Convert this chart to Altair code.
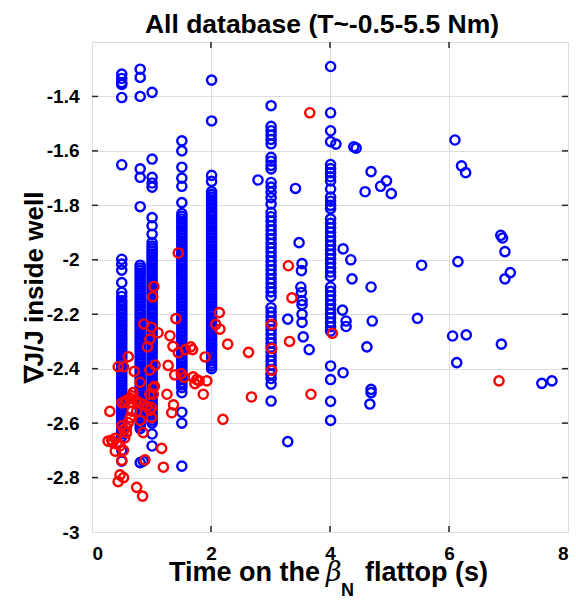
import altair as alt
import pandas as pd

# ---------------- data ----------------
col_x = [0.50, 0.81, 1.01, 1.51, 2.01, 3.01, 4.01]

col05_y = [-1.318, -1.334, -1.349, -1.356, -1.404, -1.651, -1.998, -2.016, -2.038, -2.084,
           -2.12, -2.135,
           -2.15, -2.16, -2.17, -2.18, -2.19, -2.20, -2.21, -2.22, -2.23, -2.24,
           -2.25, -2.26, -2.27, -2.28, -2.29, -2.30, -2.31, -2.32, -2.33, -2.34,
           -2.35, -2.36, -2.37, -2.38, -2.39, -2.40, -2.41, -2.42, -2.43, -2.44,
           -2.45, -2.46, -2.47, -2.48, -2.49, -2.50, -2.51, -2.52, -2.53, -2.54,
           -2.55, -2.56, -2.57, -2.58, -2.59, -2.60, -2.61, -2.62, -2.63, -2.64,
           -2.65, -2.70, -2.74]
col08_y = [-1.30, -1.33, -1.40, -1.666, -1.697, -1.805,
           -2.02, -2.03, -2.04, -2.05, -2.06, -2.07, -2.08, -2.09, -2.10, -2.11,
           -2.12, -2.13, -2.14, -2.15, -2.16, -2.17, -2.18, -2.19, -2.20, -2.21,
           -2.22, -2.23, -2.24, -2.25, -2.26, -2.27, -2.28, -2.29, -2.30, -2.31,
           -2.32, -2.33, -2.34, -2.35, -2.36, -2.37, -2.38, -2.39, -2.40, -2.41,
           -2.42, -2.43, -2.44, -2.45, -2.46, -2.47, -2.48, -2.49, -2.50, -2.51,
           -2.52, -2.53, -2.54, -2.55, -2.56, -2.57, -2.58, -2.59, -2.60, -2.61,
           -2.62, -2.745]
col10_y = [-1.385, -1.63, -1.697, -1.718, -1.733, -1.845, -1.875, -1.906, -1.937,
           -1.95, -1.96, -1.97, -1.98, -1.99, -2.00, -2.01, -2.02, -2.03, -2.04,
           -2.05, -2.06, -2.07, -2.08, -2.09, -2.10, -2.11, -2.12, -2.13, -2.14,
           -2.15, -2.16, -2.17, -2.18, -2.19, -2.20, -2.21, -2.22, -2.23, -2.24,
           -2.25, -2.26, -2.27, -2.28, -2.29, -2.30, -2.31, -2.32, -2.33, -2.34,
           -2.35, -2.36, -2.37, -2.38, -2.39, -2.40, -2.41, -2.42, -2.43, -2.44,
           -2.45, -2.46, -2.47, -2.48, -2.49, -2.50, -2.51, -2.52, -2.53, -2.54,
           -2.55, -2.56, -2.57, -2.58, -2.59, -2.60, -2.64, -2.684]
col15_y = [-1.563, -1.60, -1.66, -1.70, -1.73, -1.79, -1.83,
           -1.84, -1.85, -1.86, -1.87, -1.88, -1.89, -1.90, -1.91, -1.92, -1.93,
           -1.94, -1.95, -1.96, -1.97, -1.98, -1.99, -2.00, -2.01, -2.02, -2.03,
           -2.04, -2.05, -2.06, -2.07, -2.08, -2.09, -2.10, -2.11, -2.12, -2.13,
           -2.14, -2.15, -2.16, -2.17, -2.18, -2.19, -2.20, -2.21, -2.22, -2.23,
           -2.24, -2.25, -2.26, -2.27, -2.28, -2.29, -2.30, -2.31, -2.32, -2.33,
           -2.34, -2.35, -2.36, -2.37, -2.38, -2.39, -2.40, -2.41, -2.42, -2.43,
           -2.44, -2.45, -2.46, -2.47, -2.488, -2.56, -2.60, -2.758]
col20_y = [-1.34, -1.49, -1.69, -1.712,
           -1.75, -1.76, -1.77, -1.78, -1.79, -1.80, -1.81, -1.82, -1.83, -1.84,
           -1.85, -1.86, -1.87, -1.88, -1.89, -1.90, -1.91, -1.92, -1.93, -1.94,
           -1.95, -1.96, -1.97, -1.98, -1.99, -2.00, -2.01, -2.02, -2.03, -2.04,
           -2.05, -2.06, -2.07, -2.08, -2.09, -2.10, -2.11, -2.12, -2.13, -2.14,
           -2.15, -2.16, -2.17, -2.18, -2.19, -2.20, -2.21, -2.22, -2.23, -2.24,
           -2.25, -2.26, -2.27, -2.28, -2.29, -2.30, -2.31, -2.32, -2.33, -2.34,
           -2.35, -2.36, -2.37, -2.38, -2.39, -2.40]
col30_y = [-1.434, -1.51, -1.526, -1.542, -1.558, -1.574, -1.624, -1.638, -1.653, -1.666,
           -1.716, -1.733, -1.752, -1.772, -1.795, -1.826, -1.842, -1.858, -1.875, -1.891,
           -1.907, -1.923, -1.94, -1.956, -1.972, -1.988, -2.005, -2.021, -2.037, -2.053,
           -2.07, -2.086, -2.102, -2.118, -2.135, -2.176, -2.192, -2.208, -2.225, -2.241,
           -2.257, -2.273, -2.29, -2.306, -2.322, -2.338, -2.355, -2.371, -2.387, -2.403,
           -2.42, -2.436, -2.457, -2.519]
col40_y = [-1.29, -1.46, -1.526, -1.566, -1.65, -1.665, -1.68, -1.695, -1.71, -1.74,
           -1.77, -1.785, -1.80, -1.812, -1.85, -1.866, -1.882, -1.899, -1.915, -1.931,
           -1.947, -1.964, -1.98, -1.996, -2.012, -2.029, -2.045, -2.061, -2.10, -2.116,
           -2.132, -2.148, -2.165, -2.181, -2.197, -2.213, -2.23, -2.246, -2.262, -2.39,
           -2.44, -2.52, -2.59]
col_ys = [col05_y, col08_y, col10_y, col15_y, col20_y, col30_y, col40_y]

blue_x = [0.86, 2.79, 3.42, 3.48, 3.53, 3.52, 3.51, 3.52, 3.53, 3.53, 3.53, 3.53, 3.55, 3.65,
          3.29, 3.29, 4.10, 4.22, 4.35, 4.37, 4.69, 4.21, 4.27, 4.27, 4.22, 4.71, 4.62,
          4.69, 4.69, 4.67, 4.40, 4.44, 4.69, 4.59, 4.85, 4.95, 5.03, 6.10, 6.21, 6.28,
          6.87, 6.90, 6.94, 7.03, 6.94, 5.54, 6.15, 5.47, 6.06, 6.29, 6.88, 6.13, 7.56, 7.73]
blue_y = [-2.74, -1.707, -1.738, -1.937, -2.014, -2.04, -2.10, -2.12, -2.15, -2.165, -2.20,
          -2.23, -2.283, -2.33, -2.218, -2.668, -1.575, -1.96, -2.0, -2.07, -2.10, -2.185,
          -2.225, -2.245, -2.415, -2.225, -2.32, -2.476, -2.488, -2.53, -1.585, -1.59,
          -1.676, -1.75, -1.73, -1.71, -1.757, -1.56, -1.655, -1.68, -1.91, -1.92, -1.97,
          -2.047, -2.07, -2.02, -2.007, -2.215, -2.28, -2.276, -2.31, -2.378, -2.454, -2.445]

red_x = [3.66, 3.30, 3.36, 4.04, 3.02, 3.02, 3.02, 3.32, 3.68, 2.68, 2.20, 2.63, 2.28, 2.14,
         2.08, 2.15, 6.84, 1.45, 1.04, 1.02, 1.41, 0.87, 1.00, 1.11, 1.31, 0.97, 0.93, 1.36,
         1.45, 1.57, 1.66, 1.69, 1.90, 0.61, 0.44, 0.53, 0.71, 1.06, 0.97, 1.28, 1.39, 1.50,
         1.55, 1.70, 1.76, 1.80, 1.93, 1.73, 0.81, 1.05, 1.87, 1.03, 0.97, 1.03, 0.69, 0.67,
         0.64, 1.26, 0.58, 0.55, 0.50, 0.75, 0.81, 0.86, 0.92, 1.00, 1.37, 0.30, 0.67, 0.75,
         0.97, 1.00, 1.34, 0.81, 0.64, 0.61, 0.58, 0.53, 0.50, 0.58, 0.55, 0.39, 0.33, 0.27,
         0.35, 0.42, 0.47, 0.39, 0.53, 0.50, 0.86, 1.17, 0.89, 1.20, 0.47, 0.53, 0.44, 0.75,
         0.85]
red_y = [-1.46, -2.022, -2.14, -2.27, -2.237, -2.326, -2.406, -2.30, -2.494, -2.504, -2.586,
         -2.34, -2.31, -2.194, -2.237, -2.255, -2.445, -1.975, -2.098, -2.136, -2.216,
         -2.236, -2.248, -2.268, -2.279, -2.292, -2.32, -2.318, -2.341, -2.33, -2.32, -2.33,
         -2.357, -2.356, -2.393, -2.393, -2.41, -2.387, -2.405, -2.388, -2.423, -2.418,
         -2.432, -2.43, -2.44, -2.445, -2.445, -2.455, -2.45, -2.465, -2.494, -2.47, -2.494,
         -2.494, -2.488, -2.50, -2.509, -2.494, -2.516, -2.525, -2.525, -2.519, -2.526,
         -2.53, -2.537, -2.543, -2.533, -2.557, -2.556, -2.556, -2.553, -2.58, -2.562,
         -2.59, -2.58, -2.598, -2.617, -2.623, -2.61, -2.635, -2.654, -2.656, -2.663,
         -2.666, -2.672, -2.676, -2.684, -2.703, -2.70, -2.737, -2.635, -2.693, -2.735,
         -2.762, -2.79, -2.80, -2.815, -2.836, -2.868]

x_ticks = [0, 2, 4, 6, 8]
y_ticks = [-3, -2.8, -2.6, -2.4, -2.2, -2, -1.8, -1.6, -1.4]
x_domain = [0, 8]
y_domain = [-3, -1.2]
title_text = "All database (T~-0.5-5.5 Nm)"
y_title = "∇J/J inside well"
x_title_parts = ["Time on the", "β", "N", "flattop (s)"]

# ---------------- build tables ----------------
bx, by = [], []
for cx, ys in zip(col_x, col_ys):
    bx += [cx] * len(ys)
    by += ys
bx += blue_x
by += blue_y
blue_df = pd.DataFrame({"t": bx, "g": by})
red_df = pd.DataFrame({"t": red_x, "g": red_y})
xt_df = pd.DataFrame({"t": x_ticks[1:-1]})
yt_df = pd.DataFrame({"g": y_ticks[1:]})
one_df = pd.DataFrame({"k": [0]})

W, H = 476, 490
FONT = "Liberation Sans"

xs = alt.Scale(domain=x_domain, nice=False, zero=False)
ys_ = alt.Scale(domain=y_domain, nice=False, zero=False)

x_axis = alt.Axis(values=x_ticks, format="d", title=None, grid=True, ticks=False,
                  domain=False, labelPadding=12, labelFontSize=19, labelFontWeight="bold",
                  labelFont=FONT, labelColor="black")
y_axis = alt.Axis(values=y_ticks, title=y_title, grid=True, ticks=False, domain=False,
                  labelPadding=13, labelFontSize=19, labelFontWeight="bold",
                  labelFont=FONT, labelColor="black",
                  labelExpr="replace(format(datum.value, '.1~f'), '\u2212', '-')",
                  titleFontSize=26, titleFont=FONT, titleFontWeight="bold",
                  titleColor="black", titleX=-58, titleY=H / 2, titleBaseline="middle",
                  titleAngle=270, titleAlign="center")

X = alt.X("t:Q", scale=xs, axis=x_axis)
Y = alt.Y("g:Q", scale=ys_, axis=y_axis)

PT_SIZE, PT_W = 85, 2.4
blue = alt.Chart(blue_df).mark_point(shape="circle", filled=False, size=PT_SIZE,
                                     strokeWidth=PT_W, color="#0000ff", opacity=1).encode(x=X, y=Y)
red = alt.Chart(red_df).mark_point(shape="circle", filled=False, size=PT_SIZE,
                                   strokeWidth=PT_W, color="#ff0000", opacity=1).encode(x=X, y=Y)

tick_len = 6
xt_bot = alt.Chart(xt_df).mark_rule(color="#262626", strokeWidth=1.5).encode(
    x=X, y=alt.value(H), y2=alt.value(H - tick_len))
xt_top = alt.Chart(xt_df).mark_rule(color="#262626", strokeWidth=1.5).encode(
    x=X, y=alt.value(0), y2=alt.value(tick_len))
yt_left = alt.Chart(yt_df).mark_rule(color="#262626", strokeWidth=1.5).encode(
    y=Y, x=alt.value(0), x2=alt.value(tick_len))
yt_right = alt.Chart(yt_df).mark_rule(color="#262626", strokeWidth=1.5).encode(
    y=Y, x=alt.value(W), x2=alt.value(W - tick_len))

# x-axis title with subscript beta_N
xl_base = 539
xl1 = alt.Chart(one_df).mark_text(align="right", baseline="alphabetic", fontSize=27,
                                  fontWeight="bold", font=FONT, color="black").encode(
    x=alt.value(228), y=alt.value(xl_base), text=alt.value(x_title_parts[0]))
xl2 = alt.Chart(one_df).mark_text(align="left", baseline="alphabetic", fontSize=27,
                                  fontStyle="italic", font="DejaVu Serif", color="black").encode(
    x=alt.value(234), y=alt.value(xl_base), text=alt.value(x_title_parts[1]))
xl3 = alt.Chart(one_df).mark_text(align="left", baseline="alphabetic", fontSize=18,
                                  fontWeight="bold", font=FONT, color="black").encode(
    x=alt.value(249), y=alt.value(xl_base + 15), text=alt.value(x_title_parts[2]))
xl4 = alt.Chart(one_df).mark_text(align="left", baseline="alphabetic", fontSize=27,
                                  fontWeight="bold", font=FONT, color="black").encode(
    x=alt.value(273), y=alt.value(xl_base), text=alt.value(x_title_parts[3]))

chart = alt.layer(blue, red, xt_bot, xt_top, yt_left, yt_right, xl1, xl2, xl3, xl4).properties(
    width=W, height=H,
    title=alt.TitleParams(title_text, fontSize=26.5, fontWeight="bold", font=FONT,
                          color="black", anchor="middle", offset=3, dx=-8),
    autosize=alt.AutoSizeParams(type="none"),
    padding={"left": 92, "top": 42, "right": 8, "bottom": 68},
).configure_view(stroke="#262626", strokeWidth=1.5).configure_axis(
    gridColor="#dcdcdc", gridWidth=1, labelFontWeight="bold", labelFont=FONT,
).configure(background="white")

chart.save("out.html", embed_options={"renderer": "svg", "actions": False})
